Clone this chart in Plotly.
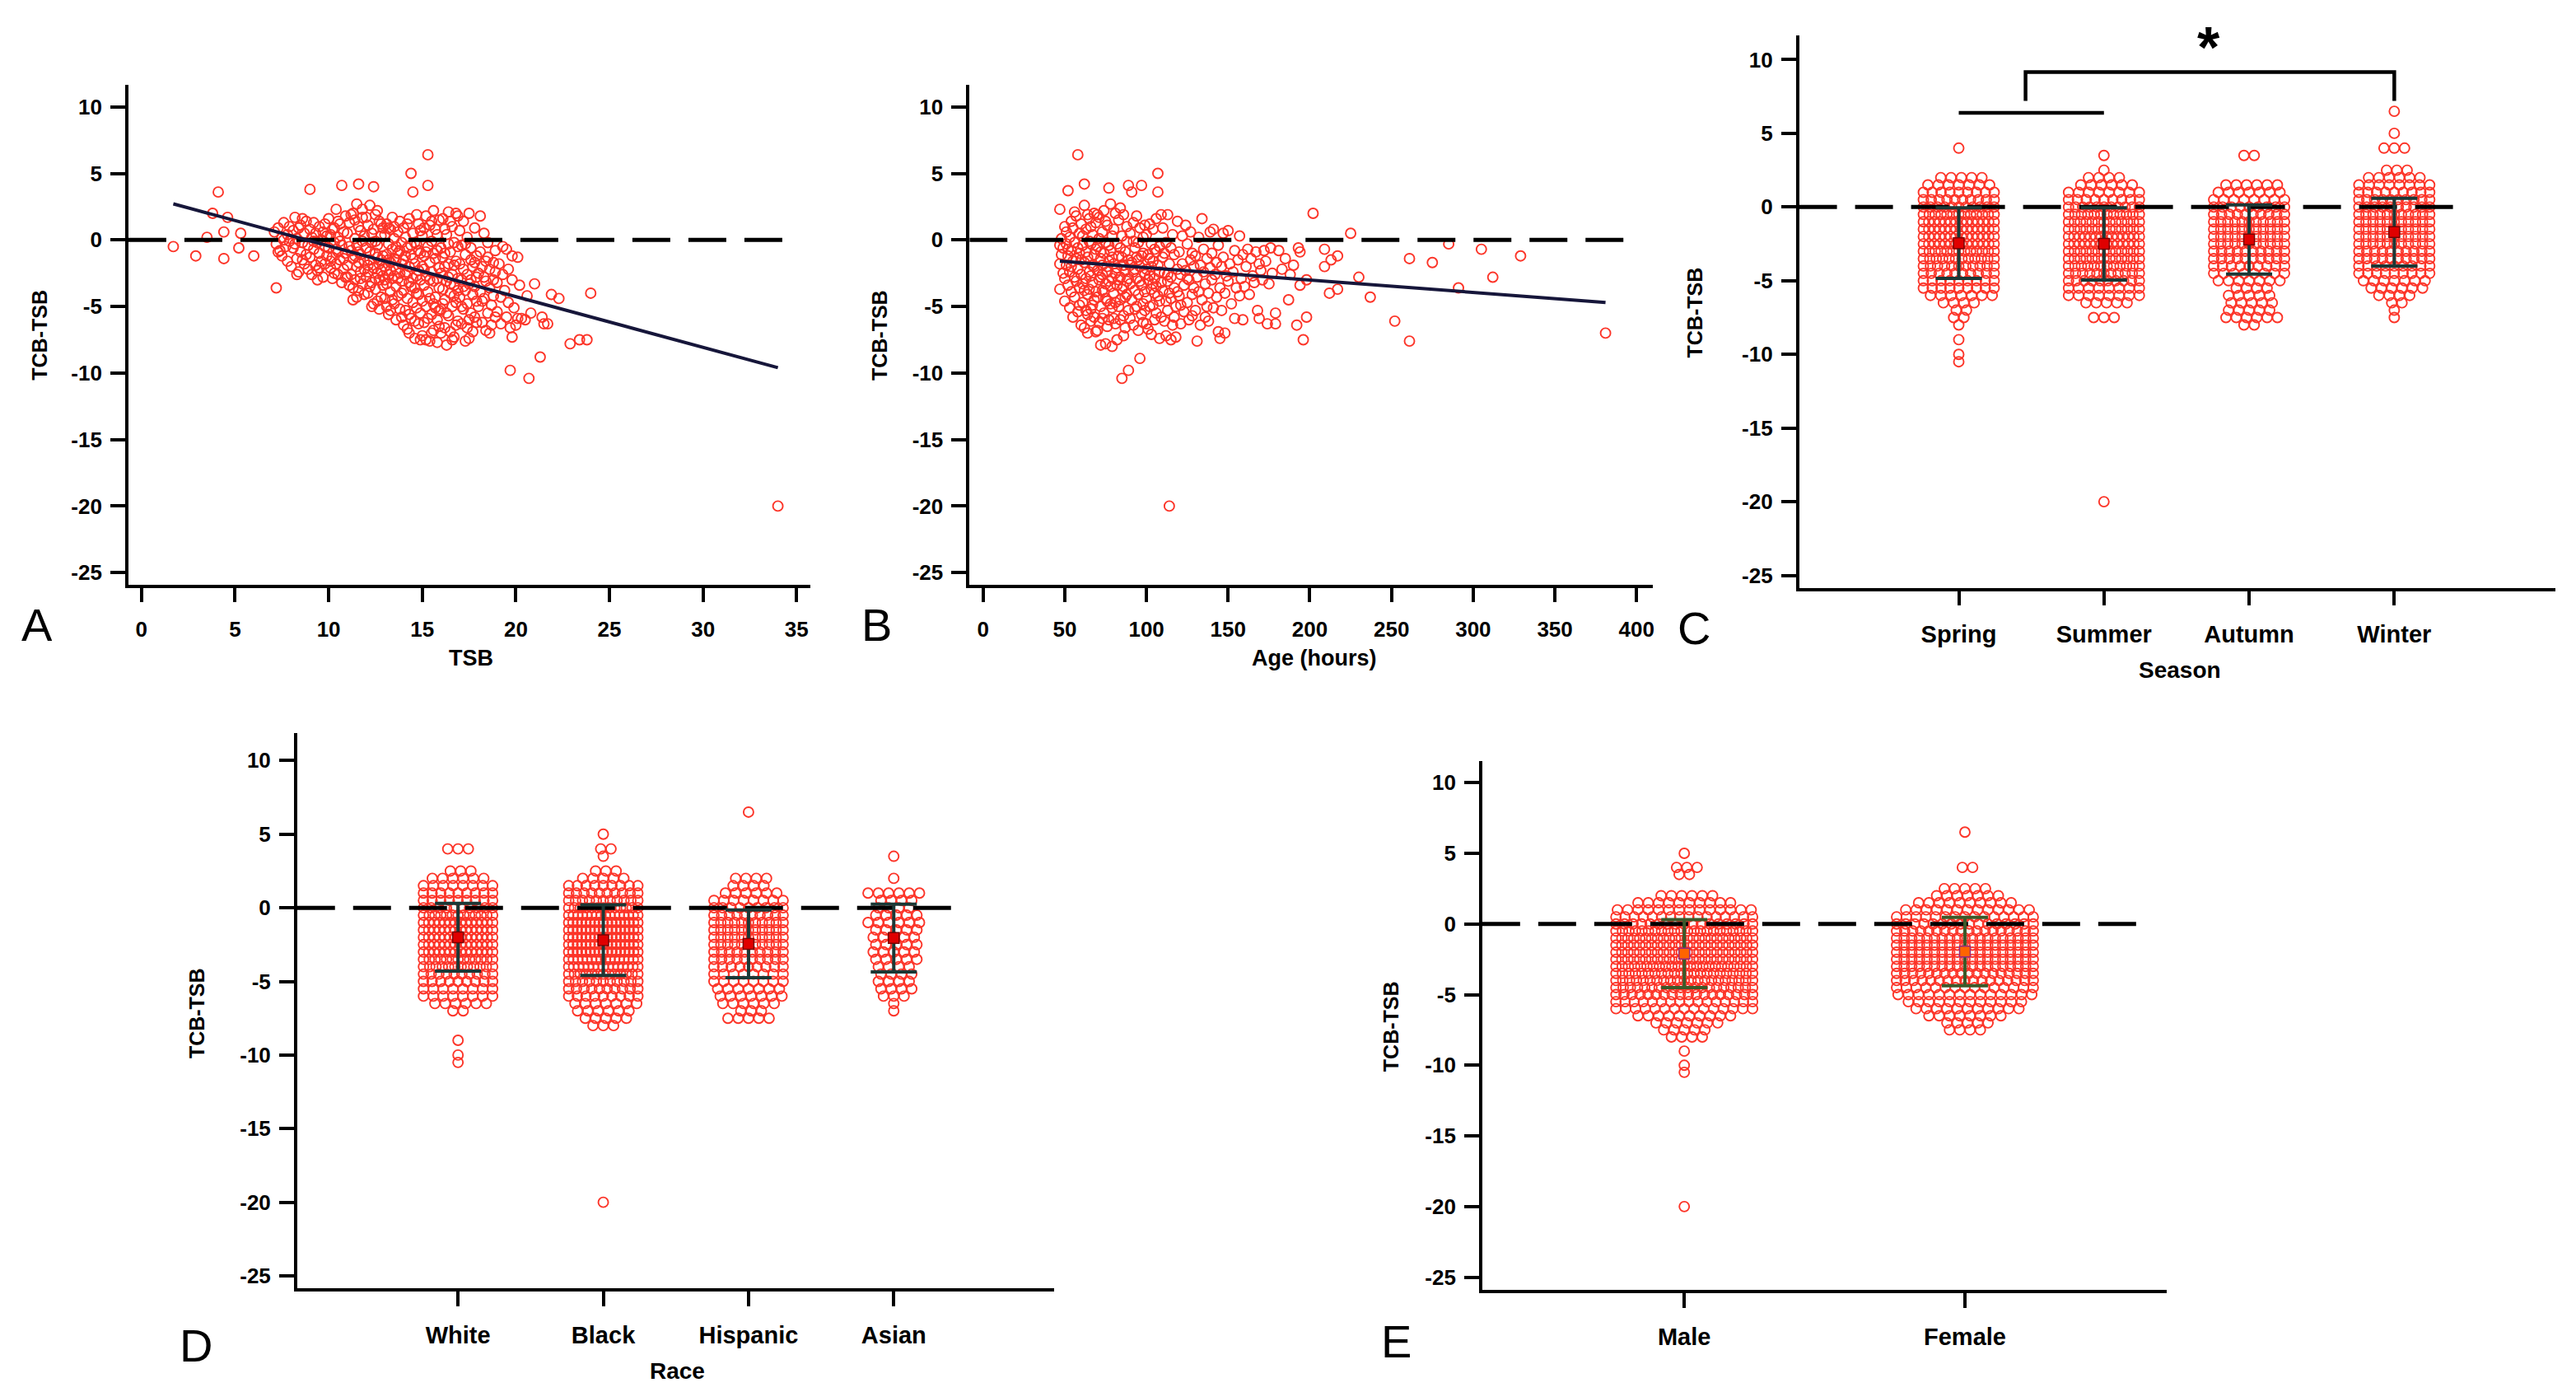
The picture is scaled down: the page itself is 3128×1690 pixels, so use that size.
import plotly.graph_objects as go

W, H = 3128, 1690

# ------------------------------------------------------------------ data
# Panel A: (TSB, TCB-TSB)
panel_a_points = [
    (1.7, -0.5), (2.9, -1.2), (3.5, 0.2), (4.1, 3.6), (3.8, 2.0), (4.6, 1.7), (4.4, 0.6), (4.4, -1.4),
    (5.2, -0.6), (5.3, 0.5), (6.0, -1.2), (7.2, -3.6), (8.3, -2.6), (9.0, 3.8),
    (7.1, 0.6), (7.2, -0.3), (7.3, 0.9), (7.4, -0.8), (7.5, 0.2), (7.5, -1.2), (7.6, 1.3), (7.7, -0.5),
    (7.8, 0.4), (7.8, -1.6), (7.9, -0.1), (7.3, -0.9), (7.6, 0.0), (7.9, 1.0),
    (8.0, -2.0), (8.1, 0.7), (8.1, -0.6), (8.2, 1.7), (8.3, -1.4), (8.3, 0.1), (8.4, -2.4), (8.5, 1.1),
    (8.5, -0.9), (8.6, -0.2), (8.6, 1.6), (8.7, -1.8), (8.7, 0.5), (8.8, -1.1), (8.8, 1.4), (8.9, -0.4),
    (8.9, -2.2), (8.2, -0.3), (8.4, 0.9), (8.6, -1.5),
    (9.0, 0.8), (9.0, -1.3), (9.1, -2.6), (9.1, 0.2), (9.2, -0.7), (9.2, 1.3), (9.3, -1.9), (9.3, 0.5),
    (9.4, -0.2), (9.4, -2.3), (9.5, 1.0), (9.5, -1.0), (9.6, -1.6), (9.6, 0.0), (9.7, -2.8), (9.7, 0.6),
    (9.8, -0.5), (9.8, -1.8), (9.9, 0.3), (9.9, -1.2), (9.2, -0.1), (9.5, -2.1), (9.8, 1.2), (9.4, -3.0),
    (10.0, -0.6), (10.0, 1.6), (10.1, -2.1), (10.1, 0.4), (10.2, -1.3), (10.2, -2.9), (10.3, 0.9), (10.3, -0.2),
    (10.4, -1.8), (10.4, 2.3), (10.5, -0.9), (10.5, 0.2), (10.5, -2.6), (10.6, 1.2), (10.6, -1.5), (10.7, -0.4),
    (10.7, -3.2), (10.7, 4.1), (10.8, 0.6), (10.8, -2.2), (10.9, -1.0), (10.9, 1.8), (10.1, -1.6), (10.3, -2.5),
    (10.5, 1.4), (10.6, -0.1), (10.8, -1.4), (10.9, -2.8), (10.2, 0.8), (10.4, -0.7),
    (11.0, -1.9), (11.0, 0.5), (11.1, -3.4), (11.1, 1.3), (11.2, -0.8), (11.2, -2.6), (11.3, 2.0), (11.3, -1.4),
    (11.3, -4.5), (11.4, 0.1), (11.4, -3.0), (11.5, 2.7), (11.5, -0.4), (11.5, -2.0), (11.6, 1.0), (11.6, -3.8),
    (11.6, 4.2), (11.7, -1.1), (11.7, 0.7), (11.7, -2.4), (11.8, -0.1), (11.8, -3.3), (11.8, 1.7), (11.9, -1.6),
    (11.9, -4.1), (11.9, 0.3), (11.1, -0.5), (11.2, 1.9), (11.3, -3.6), (11.4, -1.2), (11.5, -4.3), (11.6, -0.9),
    (11.7, -2.9), (11.8, 2.3), (11.9, -2.2), (11.4, 1.5), (11.0, -2.8), (11.6, -1.7),
    (12.0, -0.6), (12.0, -2.8), (12.1, 1.1), (12.1, -4.0), (12.2, -1.5), (12.2, 2.6), (12.3, -0.2), (12.3, -3.2),
    (12.3, -5.0), (12.4, 0.8), (12.4, -2.1), (12.4, 4.0), (12.5, -1.0), (12.5, -3.7), (12.5, 1.9), (12.6, -0.4),
    (12.6, -2.5), (12.6, -4.6), (12.7, 1.4), (12.7, -1.8), (12.7, -3.0), (12.8, 0.3), (12.8, -2.3), (12.8, -4.3),
    (12.9, -1.2), (12.9, 0.9), (12.9, -3.4), (12.0, 1.7), (12.1, -1.9), (12.2, -3.5), (12.3, 0.5), (12.4, -4.8),
    (12.5, -0.1), (12.6, 2.2), (12.7, -5.2), (12.8, -1.5), (12.9, -2.7), (12.2, -0.9), (12.5, -2.9), (12.8, 1.2),
    (12.1, -2.4), (12.6, -1.3),
    (13.0, -2.0), (13.0, 0.4), (13.0, -4.4), (13.1, -1.1), (13.1, -3.3), (13.1, 1.2), (13.2, -0.3), (13.2, -2.6),
    (13.2, -5.6), (13.3, 0.8), (13.3, -1.7), (13.3, -3.9), (13.4, -0.7), (13.4, -2.9), (13.4, 1.7), (13.5, -1.4),
    (13.5, -4.8), (13.5, 0.1), (13.6, -2.2), (13.6, -3.5), (13.6, -6.0), (13.7, 0.6), (13.7, -1.0), (13.7, -4.2),
    (13.8, -2.5), (13.8, 1.4), (13.8, -5.2), (13.9, -0.2), (13.9, -3.1), (13.9, -1.8), (13.0, -3.0), (13.1, -5.0),
    (13.2, 0.9), (13.3, -2.3), (13.4, -4.5), (13.5, -2.7), (13.6, -0.5), (13.7, -2.9), (13.8, -0.8), (13.9, -4.0),
    (13.2, -1.5), (13.5, 1.0), (13.6, -1.5), (13.9, -5.8), (13.3, -5.3),
    (14.0, -1.5), (14.0, -3.8), (14.0, 0.9), (14.1, -2.6), (14.1, -5.3), (14.1, 0.2), (14.2, -0.6), (14.2, -4.4),
    (14.2, -6.7), (14.3, 1.6), (14.3, -2.0), (14.3, -3.2), (14.4, -1.1), (14.4, -5.9), (14.4, 5.0), (14.5, 0.5),
    (14.5, -2.9), (14.5, -4.7), (14.6, -1.8), (14.6, -3.6), (14.6, -7.4), (14.7, 1.9), (14.7, -0.3), (14.7, -5.1),
    (14.8, -2.3), (14.8, -4.1), (14.8, -6.3), (14.9, -1.0), (14.9, -3.0), (14.9, 0.7), (14.0, -6.4), (14.1, -1.2),
    (14.2, -2.4), (14.3, -5.6), (14.4, -3.5), (14.5, 3.6), (14.6, -0.2), (14.7, -2.7), (14.8, 1.2), (14.9, -5.5),
    (14.2, 1.2), (14.4, -0.4), (14.6, -6.1), (14.8, -0.8), (14.3, -7.0), (14.7, -4.0), (14.5, -1.4), (14.9, -7.5),
    (15.0, -2.0), (15.0, 0.3), (15.0, -4.6), (15.1, -1.2), (15.1, -3.4), (15.1, -6.2), (15.2, 1.8), (15.2, -2.7),
    (15.2, -5.0), (15.3, -0.5), (15.3, -3.9), (15.3, 6.4), (15.3, 4.1), (15.4, -1.7), (15.4, -7.6), (15.4, 1.1),
    (15.5, -2.4), (15.5, -5.6), (15.5, -0.1), (15.6, -3.1), (15.6, -6.8), (15.6, 2.2), (15.7, -1.4), (15.7, -4.3),
    (15.7, 0.8), (15.8, -2.9), (15.8, -6.0), (15.8, -0.8), (15.9, -3.6), (15.9, -5.3), (15.9, 1.5), (15.0, -7.2),
    (15.1, 0.9), (15.2, -0.9), (15.3, -5.9), (15.4, -4.4), (15.5, -7.0), (15.6, -1.0), (15.7, -5.1), (15.8, -7.7),
    (15.9, -2.1), (15.1, -2.2), (15.4, -3.0), (15.6, -4.8), (15.8, 0.4), (15.2, -7.5), (15.5, 1.4), (15.9, -6.5),
    (16.0, -2.5), (16.0, -0.6), (16.0, -5.2), (16.1, -3.7), (16.1, -1.3), (16.1, 1.6), (16.2, -4.5), (16.2, -6.6),
    (16.2, -2.0), (16.3, 0.4), (16.3, -3.1), (16.3, -7.9), (16.4, -1.8), (16.4, -5.7), (16.4, 2.1), (16.5, -0.9),
    (16.5, -4.0), (16.5, -6.9), (16.6, -2.6), (16.6, 1.0), (16.6, -5.0), (16.7, -3.4), (16.7, -0.2), (16.7, -7.3),
    (16.8, -1.6), (16.8, -4.7), (16.8, 2.0), (16.9, -2.9), (16.9, -6.1), (16.9, -0.5), (16.0, -7.0), (16.1, -4.8),
    (16.2, 0.8), (16.3, -5.5), (16.4, -2.8), (16.5, 1.4), (16.6, -7.5), (16.7, -4.2), (16.8, -6.4), (16.9, -3.8),
    (16.2, -1.0), (16.5, -3.3), (16.7, -1.9), (16.4, -0.3), (16.9, 1.8),
    (17.0, -1.8), (17.0, -4.3), (17.0, 0.7), (17.1, -3.0), (17.1, -6.3), (17.1, -0.4), (17.2, -2.2), (17.2, -5.2),
    (17.2, 1.4), (17.3, -3.8), (17.3, -7.6), (17.3, -1.1), (17.4, -4.8), (17.4, -2.6), (17.4, 0.2), (17.5, -6.0),
    (17.5, -3.3), (17.5, 2.0), (17.6, -1.5), (17.6, -5.5), (17.6, -0.6), (17.7, -4.1), (17.7, -6.9), (17.7, -2.0),
    (17.8, -3.5), (17.8, 0.9), (17.8, -5.8), (17.9, -2.8), (17.9, -4.6), (17.9, -1.2), (17.1, -5.0), (17.3, -0.3),
    (17.5, -7.4), (17.6, -3.0), (17.8, -1.7), (17.2, -3.5), (17.4, -6.6), (17.9, -6.2),
    (18.0, -2.5), (18.0, -5.0), (18.1, -0.9), (18.1, -3.9), (18.1, 1.8), (18.2, -6.2), (18.2, -2.0), (18.3, -4.4),
    (18.3, 0.5), (18.4, -3.1), (18.4, -6.8), (18.5, -1.3), (18.5, -5.5), (18.5, -0.2), (18.6, -3.6), (18.6, -2.2),
    (18.7, -4.9), (18.7, -6.4), (18.8, -1.7), (18.8, -3.0), (18.9, -5.8), (18.9, -0.8), (18.2, -4.6), (18.4, -1.6),
    (18.6, -7.0), (18.8, -4.2), (18.3, -2.8), (18.9, -2.4),
    (19.0, -3.2), (19.0, -5.4), (19.1, -1.8), (19.2, -4.3), (19.2, -6.3), (19.3, -2.6), (19.3, -0.5), (19.4, -3.8),
    (19.5, -5.8), (19.6, -2.2), (19.6, -4.7), (19.7, -6.6), (19.8, -3.0), (19.8, -1.2), (19.9, -5.1), (19.5, -0.7),
    (20.0, -6.4), (20.1, -1.3), (20.2, -3.4), (20.3, -5.9), (20.5, -6.0), (20.6, -4.2), (20.8, -5.5), (21.0, -3.3),
    (21.4, -5.8), (21.7, -6.3),
    (19.7, -9.8), (20.7, -10.4), (21.3, -8.8), (22.9, -7.8), (23.4, -7.5), (23.8, -7.5), (24.0, -4.0),
    (22.3, -4.4), (21.9, -4.1), (21.5, -6.3), (19.8, -7.3), (20.1, -5.9), (34.0, -20.0),
]

# Panel B: (Age in hours, TCB-TSB)
panel_b_points = [
    (47, 2.3), (47, -0.4), (47, -1.8), (47, -3.7), (48, 0.1), (49, -0.6), (49, -2.5), (48, -1.1),
    (50, 1.0), (50, -2.9), (50, -4.6), (51, -0.3), (51, -1.9), (51, 0.6), (52, 3.7), (52, -3.4), (52, -1.2),
    (53, -5.1), (53, 0.2), (53, -2.4), (54, 1.4), (54, -0.8), (54, -3.9), (55, -1.6), (55, -5.8), (55, 0.9),
    (56, -2.8), (56, -0.2), (56, -4.3), (57, 1.8), (57, -1.4), (57, -3.1), (58, 6.4), (58, -0.6), (58, -2.2),
    (58, -5.4), (59, 0.5), (59, -3.6), (59, -1.0), (59, -4.9), (56, 2.1), (54, -2.0), (52, -0.7),
    (60, -2.6), (60, -6.4), (60, 1.2), (61, -0.4), (61, -3.3), (61, -4.7), (62, 4.2), (62, -1.7), (62, 2.6),
    (62, -6.6), (63, -0.9), (63, -2.9), (63, 0.8), (64, -4.1), (64, -5.6), (64, -1.3), (65, 1.6), (65, -2.4),
    (65, -3.7), (66, -0.3), (66, -5.2), (66, -6.1), (67, -1.9), (67, 0.4), (67, -3.2), (68, -4.5), (68, 2.0),
    (68, -2.0), (69, -0.7), (69, -6.9), (69, -3.9), (60, -1.5), (61, 0.3), (63, -5.3), (64, 1.9), (65, -0.1),
    (66, -2.7), (67, -4.9), (68, -1.1), (69, 1.3), (62, -3.8), (64, -7.0), (66, 1.0), (68, -5.8),
    (70, -2.3), (70, -0.5), (70, -4.3), (71, 1.7), (71, -3.0), (71, -6.2), (72, -1.4), (72, -5.0), (72, -7.9),
    (73, 0.6), (73, -2.6), (73, -3.8), (74, -1.0), (74, -5.5), (74, 2.2), (75, -3.3), (75, -0.2), (75, -7.8),
    (76, -2.0), (76, -4.6), (76, 1.1), (77, 3.9), (77, -1.6), (77, -6.0), (78, 2.7), (78, -3.5), (78, -0.8),
    (79, -2.9), (79, -5.1), (79, -8.0), (70, -6.8), (71, 0.1), (72, -2.8), (73, -5.9), (74, -3.9), (75, 1.4),
    (76, -6.5), (77, -0.4), (78, -4.8), (79, 0.3), (70, 1.9), (73, -1.9), (75, -4.4), (77, -3.1), (79, -1.3),
    (72, -0.9), (76, -2.4),
    (80, -1.8), (80, -4.0), (80, 0.8), (81, -2.5), (81, -6.3), (81, 2.0), (82, -0.3), (82, -3.4), (82, -7.5),
    (83, -1.2), (83, -5.0), (83, 1.5), (84, -2.8), (84, -4.5), (84, -0.6), (85, -10.4), (85, -3.7), (85, 0.3),
    (86, -1.9), (86, -5.7), (86, 1.9), (87, -2.3), (87, -6.6), (87, -0.9), (88, -3.1), (88, -4.1), (88, 1.0),
    (89, 4.1), (89, -9.8), (89, -1.5), (89, -5.3), (80, -5.9), (82, -2.1), (84, -6.0), (86, -3.5), (88, -0.1),
    (81, -4.7), (83, -3.0), (85, -1.3), (87, -4.3), (89, -2.9), (84, 2.4), (86, -7.2),
    (90, -3.3), (90, 0.5), (90, -5.9), (91, 3.6), (91, -1.7), (91, -4.5), (92, -2.4), (92, 1.3), (92, -6.4),
    (93, -0.6), (93, -3.8), (93, -5.2), (94, -1.3), (94, -2.9), (94, 1.8), (95, -4.1), (95, -0.2), (95, -6.8),
    (96, -2.0), (96, -8.9), (96, 0.9), (97, 4.1), (97, -3.4), (97, -5.6), (98, -1.0), (98, -4.8), (98, -6.2),
    (99, 1.1), (99, -2.6), (99, -3.9), (90, -1.9), (92, -0.1), (94, -5.0), (96, -3.1), (98, 0.2), (93, -2.2),
    (95, -1.5), (97, -1.2), (99, -5.3),
    (100, -2.2), (100, -4.4), (100, 0.4), (101, -1.1), (101, -3.0), (101, -6.7), (102, 1.2), (102, -2.7),
    (102, -5.0), (103, -0.3), (103, -3.7), (103, -7.1), (104, -1.6), (104, -4.9), (104, 0.8), (105, -2.9),
    (105, -6.0), (105, -0.7), (106, -3.5), (106, 1.6), (106, -5.5), (107, 5.0), (107, 3.6), (107, -1.9),
    (107, -4.2), (108, -0.5), (108, -7.4), (108, -2.4), (109, -3.2), (109, 1.9), (109, -5.8), (100, -6.3),
    (102, -1.4), (104, -3.3), (106, -0.9), (108, -4.6), (103, -2.0), (105, -4.0),
    (110, -1.3), (110, -3.8), (110, 0.9), (111, -2.5), (111, -6.1), (112, -0.2), (112, -4.6), (112, -7.2),
    (113, 1.9), (113, -3.1), (113, -5.3), (114, -20.0), (114, -1.8), (114, -4.0), (115, -7.5), (115, -0.6),
    (115, -2.8), (116, -6.4), (116, 0.4), (117, -3.6), (117, -1.1), (118, -5.0), (118, -7.3), (119, -2.2),
    (119, 1.4), (111, -1.0), (113, -2.6), (115, -4.4), (117, -5.8), (119, -3.9),
    (120, -0.9), (120, -4.2), (121, -2.6), (121, -6.3), (122, 0.3), (122, -1.8), (123, -3.4), (123, -5.4),
    (124, 1.1), (124, -2.3), (125, -4.7), (125, -0.3), (126, -3.0), (126, -6.0), (127, -1.5), (127, 0.6),
    (128, -4.1), (128, -5.7), (129, -2.0), (129, -3.6), (121, -4.9), (125, -2.9), (128, -1.0),
    (130, -1.2), (130, -5.3), (131, -7.6), (131, -2.8), (132, 0.2), (132, -3.9), (133, -6.4), (133, -1.9),
    (134, 1.6), (134, -4.5), (135, -2.4), (135, -0.7), (136, -5.8), (136, -3.3), (137, -1.4), (138, -4.0),
    (138, -6.1), (139, -2.1), (139, 0.6), (137, -5.0),
    (140, -3.0), (140, -1.0), (141, 0.8), (141, -5.1), (142, -2.6), (143, -4.3), (143, -1.7), (144, -6.9),
    (144, -0.4), (145, -7.4), (145, -3.6), (146, -2.0), (146, -5.3), (147, 0.5), (147, -1.3), (148, -7.0),
    (148, -4.0), (149, -2.7),
    (150, -3.1), (150, 0.7), (151, -1.8), (152, -4.8), (153, -2.4), (154, -5.9), (154, -0.8), (155, -3.6),
    (156, -1.5), (157, 0.3), (157, -4.2), (158, -2.9), (159, -6.0), (159, -1.1),
    (160, -3.5), (161, -2.0), (162, -0.7), (163, -4.1), (164, -1.4), (165, -2.7), (166, -3.2), (167, -0.9),
    (168, -5.3), (169, -5.9), (169, -1.8),
    (170, -2.3), (171, -3.0), (172, -0.8), (173, -1.6), (174, -6.3), (175, -3.3), (176, -0.6), (177, -2.5),
    (179, -5.5), (179, -6.3),
    (181, -0.8), (183, -2.2), (185, -1.4), (187, -4.5), (188, -2.6), (192, -6.4), (193, -0.6), (194, -3.4),
    (196, -7.5), (198, -5.8), (198, -3.0), (194, -0.9), (190, -1.9),
    (202, 2.0), (209, -0.7), (209, -2.0), (212, -4.0), (213, -1.5), (217, -1.2), (217, -3.7), (225, 0.5),
    (230, -2.8), (237, -4.3), (252, -6.1), (261, -1.4), (261, -7.6), (275, -1.7), (285, -0.3), (291, -3.6),
    (305, -0.7), (312, -2.8), (329, -1.2), (381, -7.0),
]

# linear fits shown in A and B (intercept, slope)
fit_a = (3.36, -0.381)
fit_b = (-1.15, -0.0093)

# Dot-plot rows: TCB-TSB level and number of dots at that level per group
levels = [6.5, 6.0, 5.5, 5.0, 4.5, 4.0, 3.5, 3.0, 2.5, 2.0, 1.5, 1.0, 0.5, 0.0, -0.5, -1.0, -1.5, -2.0,
          -2.5, -3.0, -3.5, -4.0, -4.5, -5.0, -5.5, -6.0, -6.5, -7.0, -7.5, -8.0, -8.5, -9.0, -9.5,
          -10.0, -10.5, -20.0]

seasons = ["Spring", "Summer", "Autumn", "Winter"]
spring_n = [0, 0, 0, 0, 0, 1, 0, 0, 0, 5, 7, 9, 10, 11, 13, 14, 14, 14, 14, 13, 12, 11, 10, 9, 9, 7, 4, 2, 2, 1, 0, 1, 0, 1, 1, 0]
summer_n = [0, 0, 0, 0, 0, 0, 1, 0, 1, 4, 6, 8, 9, 11, 12, 13, 13, 14, 14, 13, 13, 12, 11, 10, 8, 8, 5, 0, 3, 0, 0, 0, 0, 0, 0, 1]
autumn_n = [0, 0, 0, 0, 0, 0, 2, 0, 0, 0, 6, 7, 8, 9, 10, 11, 11, 11, 11, 10, 10, 9, 8, 7, 4, 5, 5, 5, 6, 2, 0, 0, 0, 0, 0, 0]
winter_n = [1, 0, 0, 1, 0, 3, 0, 0, 3, 6, 8, 9, 10, 10, 11, 11, 11, 11, 11, 10, 10, 9, 9, 7, 6, 4, 2, 1, 1, 0, 0, 0, 0, 0, 0, 0]
season_mean = [-2.45, -2.5, -2.2, -1.7]
season_sd = [2.4, 2.45, 2.35, 2.3]

races = ["White", "Black", "Hispanic", "Asian"]
white_n = [0, 0, 0, 0, 0, 3, 0, 0, 3, 6, 8, 9, 9, 10, 13, 14, 14, 14, 14, 14, 13, 12, 10, 9, 8, 8, 6, 2, 0, 0, 0, 1, 0, 1, 1, 0]
black_n = [0, 0, 0, 1, 0, 2, 1, 0, 3, 5, 9, 10, 11, 13, 16, 17, 17, 17, 17, 17, 16, 15, 13, 11, 10, 9, 7, 6, 5, 3, 0, 0, 0, 0, 0, 1]
hispanic_n = [1, 0, 0, 0, 0, 0, 0, 0, 0, 4, 4, 6, 8, 9, 10, 11, 11, 11, 11, 10, 10, 9, 8, 8, 7, 7, 6, 3, 5, 0, 0, 0, 0, 0, 0, 0]
asian_n = [0, 0, 0, 0, 0, 0, 1, 0, 0, 1, 0, 6, 4, 4, 5, 6, 5, 5, 5, 5, 5, 4, 4, 4, 4, 3, 1, 1, 0, 0, 0, 0, 0, 0, 0, 0]
race_mean = [-2.0, -2.2, -2.45, -2.05]
race_sd = [2.3, 2.4, 2.3, 2.3]

sexes = ["Male", "Female"]
male_n = [0, 0, 0, 1, 0, 3, 2, 0, 0, 6, 10, 14, 16, 17, 22, 24, 24, 24, 24, 23, 22, 21, 20, 18, 16, 15, 10, 7, 5, 4, 0, 1, 0, 1, 1, 1]
female_n = [1, 0, 0, 0, 0, 2, 0, 0, 5, 7, 10, 13, 15, 16, 18, 19, 19, 19, 19, 19, 18, 17, 15, 14, 12, 11, 8, 5, 4, 0, 0, 0, 0, 0, 0, 0]
sex_mean = [-2.1, -1.95]
sex_sd = [2.4, 2.42]

# significance annotation in C (Spring+Summer vs Winter)
sig_pair_y = 6.4
sig_bracket_low = 7.2
sig_bracket_high = 9.16

y_ticks = [-25, -20, -15, -10, -5, 0, 5, 10]
tsb_ticks = [0, 5, 10, 15, 20, 25, 30, 35]
age_ticks = [0, 50, 100, 150, 200, 250, 300, 350, 400]

# ------------------------------------------------------------------ layout geometry (pixels)
geo = {
    "A": dict(x0=156, x1=985, y0=103, y1=710, xr=[-0.70, 35.75], yr=[-25.89, 11.66]),
    "B": dict(x0=1178, x1=2008, y0=103, y1=710, xr=[-8.3, 409.8], yr=[-25.89, 11.66]),
    "C": dict(x0=2186, x1=3105, y0=43, y1=714, xr=[-1.10, 4.11], yr=[-25.84, 11.65]),
    "D": dict(x0=361, x1=1281, y0=891, y1=1565, xr=[-1.108, 4.105], yr=[-25.84, 11.84]),
    "E": dict(x0=1801, x1=2633, y0=925, y1=1567, xr=[-0.72, 1.72], yr=[-25.9, 11.5]),
}
names = ["A", "B", "C", "D", "E"]

FONT = "Liberation Sans, Arial, sans-serif"
RED = "rgb(252,52,40)"
DOT = 12          # marker diameter (px)

fig = go.Figure()


def axis_ids(i):
    return ("x" if i == 0 else f"x{i+1}"), ("y" if i == 0 else f"y{i+1}")


def px_per_unit(g):
    return (g["x1"] - g["x0"]) / (g["xr"][1] - g["xr"][0])


def swarm(counts, center, g, span_px):
    ppu = px_per_unit(g)
    xs, ys = [], []
    row = 0
    for v, n in zip(levels, counts):
        if n == 0:
            continue
        step = DOT + 0.5 if n == 1 else min(DOT + 0.5, span_px / (n - 1))
        # stagger alternate rows slightly when there is room, as in a packed dot plot
        shift = 0.0
        if n > 1 and (n - 1) * step + step / 2 <= span_px and row % 2 == 1:
            shift = step / 4
        for k in range(n):
            off = (k - (n - 1) / 2.0) * step + shift
            xs.append(center + off / ppu)
            ys.append(v)
        row += 1
    return xs, ys


def zero_line(i, x_end):
    xa, ya = axis_ids(i)
    g = geo[names[i]]
    fig.add_trace(go.Scatter(x=[g["xr"][0], x_end], y=[0, 0], mode="lines", xaxis=xa, yaxis=ya,
                             line=dict(color="black", width=5, dash="46px,22px"), hoverinfo="skip"))


open_marker = dict(symbol="circle-open", size=DOT, color=RED, line=dict(width=1.9, color=RED))

# ---- Panel A
xa, ya = axis_ids(0)
fig.add_trace(go.Scatter(x=[p[0] for p in panel_a_points], y=[p[1] for p in panel_a_points],
                         mode="markers", marker=open_marker, xaxis=xa, yaxis=ya))
zero_line(0, 35)
ax_min = min(p[0] for p in panel_a_points)
ax_max = max(p[0] for p in panel_a_points)
fig.add_trace(go.Scatter(x=[ax_min, ax_max], y=[fit_a[0] + fit_a[1] * ax_min, fit_a[0] + fit_a[1] * ax_max],
                         mode="lines", line=dict(color="#16163a", width=4), xaxis=xa, yaxis=ya))

# ---- Panel B
xa, ya = axis_ids(1)
fig.add_trace(go.Scatter(x=[p[0] for p in panel_b_points], y=[p[1] for p in panel_b_points],
                         mode="markers", marker=open_marker, xaxis=xa, yaxis=ya))
zero_line(1, 400)
bx_min = min(p[0] for p in panel_b_points)
bx_max = max(p[0] for p in panel_b_points)
fig.add_trace(go.Scatter(x=[bx_min, bx_max], y=[fit_b[0] + fit_b[1] * bx_min, fit_b[0] + fit_b[1] * bx_max],
                         mode="lines", line=dict(color="#16163a", width=4), xaxis=xa, yaxis=ya))


def dot_panel(i, groups, means, sds, span_px, bar_color, mean_fill, mean_line, cap_px, zero_end):
    xa, ya = axis_ids(i)
    g = geo[names[i]]
    for k, counts in enumerate(groups):
        xs, ys = swarm(counts, k, g, span_px)
        fig.add_trace(go.Scatter(x=xs, y=ys, mode="markers", marker=open_marker, xaxis=xa, yaxis=ya))
    zero_line(i, zero_end)
    fig.add_trace(go.Scatter(
        x=list(range(len(groups))), y=means, mode="markers", xaxis=xa, yaxis=ya,
        marker=dict(symbol="square", size=13, color=mean_fill, line=dict(color=mean_line, width=1.5)),
        error_y=dict(type="data", array=sds, arrayminus=sds, symmetric=False,
                     color=bar_color, thickness=4, width=cap_px)))


dot_panel(2, [spring_n, summer_n, autumn_n, winter_n], season_mean, season_sd, 86,
          "#1b3836", "#e00000", "#7a0000", 28, 3.5)
dot_panel(3, [white_n, black_n, hispanic_n, asian_n], race_mean, race_sd, 84,
          "#1b3836", "#e00000", "#7a0000", 28, 3.5)
dot_panel(4, [male_n, female_n], sex_mean, sex_sd, 166,
          "#3b5a2a", "#ff6400", "#9a2a7a", 28, 1.66)

# significance marks in C
xa, ya = axis_ids(2)
fig.add_trace(go.Scatter(x=[0, 1], y=[sig_pair_y, sig_pair_y], mode="lines", xaxis=xa, yaxis=ya,
                         line=dict(color="black", width=4.5)))
fig.add_trace(go.Scatter(x=[0.46, 0.46, 3, 3],
                         y=[sig_bracket_low, sig_bracket_high, sig_bracket_high, sig_bracket_low],
                         mode="lines", xaxis=xa, yaxis=ya, line=dict(color="black", width=4.5)))

# ------------------------------------------------------------------ axes
tickfont = dict(family=FONT, size=26, color="black", weight="bold")
base = dict(showline=True, linecolor="black", linewidth=3.5, ticks="outside", ticklen=18, tickwidth=3.5,
            tickcolor="black", showgrid=False, zeroline=False, tickfont=tickfont, fixedrange=True)

cat_labels = [None, None, seasons, races, sexes]
for i, n in enumerate(names):
    g = geo[n]
    xkey = "xaxis" if i == 0 else f"xaxis{i+1}"
    ykey = "yaxis" if i == 0 else f"yaxis{i+1}"
    xa, ya = axis_ids(i)
    xd = dict(base, domain=[g["x0"] / W, g["x1"] / W], range=g["xr"], anchor=ya, ticklabelstandoff=10)
    if i == 0:
        xd.update(tickmode="array", tickvals=tsb_ticks, ticktext=[str(t) for t in tsb_ticks])
    elif i == 1:
        xd.update(tickmode="array", tickvals=age_ticks, ticktext=[str(t) for t in age_ticks])
    else:
        labs = cat_labels[i]
        xd.update(tickmode="array", tickvals=list(range(len(labs))), ticktext=labs,
                  tickfont=dict(tickfont, size=29))
    yd = dict(base, domain=[1 - g["y1"] / H, 1 - g["y0"] / H], range=g["yr"], anchor=xa,
              tickmode="array", tickvals=y_ticks, ticktext=[str(t) for t in y_ticks], ticklabelstandoff=5)
    fig.update_layout({xkey: xd, ykey: yd})

# ------------------------------------------------------------------ text
ann = []


def text(s, x, y, size, bold=True, angle=0):
    d = dict(text=s, x=x / W, y=1 - y / H, xref="paper", yref="paper", showarrow=False,
             xanchor="center", yanchor="middle", textangle=angle,
             font=dict(family=FONT, size=size, color="black", weight="bold" if bold else "normal"))
    ann.append(d)


text("A", 45, 759, 56, bold=False)
text("B", 1065, 759, 56, bold=False)
text("C", 2058, 763, 56, bold=False)
text("D", 238, 1634, 56, bold=False)
text("E", 1697, 1629, 56, bold=False)
text("TSB", 572, 799, 27)
text("Age (hours)", 1597, 799, 27)
text("Season", 2649, 814, 28)
text("Race", 823, 1665, 28)
for (x, y) in [(48, 407), (1068, 407), (2059, 380), (239, 1231), (1690, 1247)]:
    text("TCB-TSB", x, y, 25, angle=-90)

# asterisk above the bracket (C)
ann.append(dict(text="*", x=1.72, y=10.8, xref="x3", yref="y3", showarrow=False,
                xanchor="center", yanchor="middle",
                font=dict(family=FONT, size=70, color="black", weight="bold")))

fig.update_layout(annotations=ann, width=W, height=H, autosize=False, showlegend=False,
                  margin=dict(l=0, r=0, t=0, b=0, pad=0),
                  paper_bgcolor="white", plot_bgcolor="white")

fig.write_html("out.html", config={"displayModeBar": False},
               post_script="document.body.style.margin='0';document.body.style.overflow='hidden';")
